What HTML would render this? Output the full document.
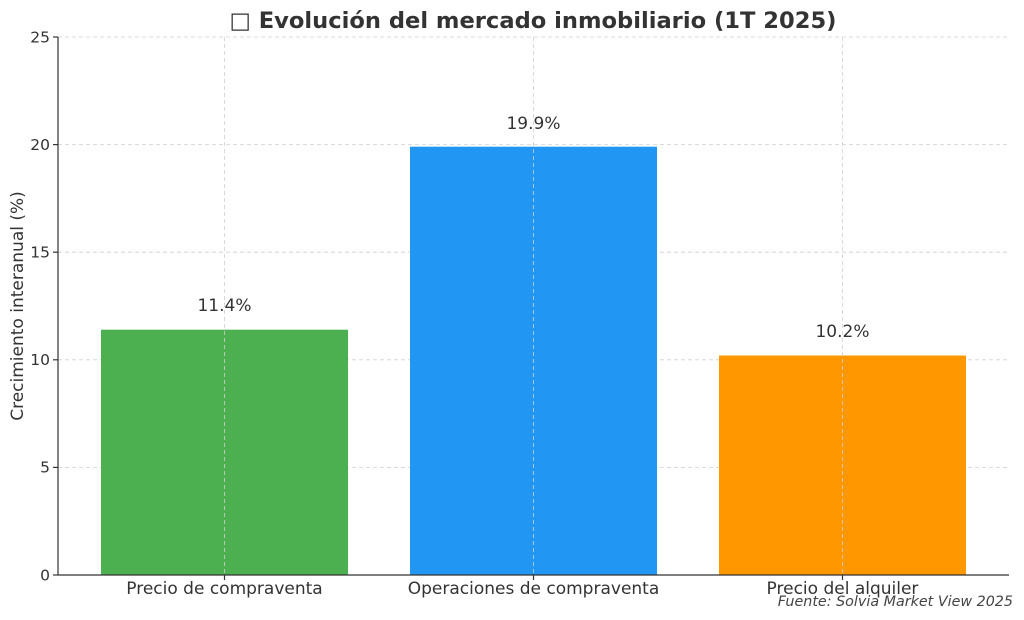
<!DOCTYPE html>
<html><head><meta charset="utf-8"><style>
body{margin:0;background:#fff;}
svg{display:block;font-family:"DejaVu Sans",sans-serif;}
</style></head><body>
<svg width="1024" height="620" viewBox="0 0 1024 620" xmlns="http://www.w3.org/2000/svg">
<rect width="1024" height="620" fill="#fff"/>
<g stroke="#d0d0d0" stroke-width="0.8" stroke-dasharray="4,3">
<line x1="58" y1="37" x2="1009" y2="37"/>
<line x1="58" y1="144.6" x2="1009" y2="144.6"/>
<line x1="58" y1="252.2" x2="1009" y2="252.2"/>
<line x1="58" y1="359.8" x2="1009" y2="359.8"/>
<line x1="58" y1="467.4" x2="1009" y2="467.4"/>
</g>
<rect x="101" y="329.7" width="247" height="245.3" fill="#4caf50"/>
<rect x="410" y="146.7" width="247" height="428.3" fill="#2196f3"/>
<rect x="719" y="355.5" width="247" height="219.5" fill="#ff9800"/>
<g stroke="#d0d0d0" stroke-width="0.8" stroke-dasharray="4,3">
<line x1="224.5" y1="37" x2="224.5" y2="575"/>
<line x1="533.5" y1="37" x2="533.5" y2="575"/>
<line x1="842.5" y1="37" x2="842.5" y2="575"/>
</g>
<g stroke="#333" stroke-width="1.2">
<line x1="58" y1="37" x2="58" y2="575"/>
<line x1="58" y1="575" x2="1009" y2="575"/>
<line x1="53" y1="37" x2="58" y2="37"/>
<line x1="53" y1="144.6" x2="58" y2="144.6"/>
<line x1="53" y1="252.2" x2="58" y2="252.2"/>
<line x1="53" y1="359.8" x2="58" y2="359.8"/>
<line x1="53" y1="467.4" x2="58" y2="467.4"/>
<line x1="53" y1="575" x2="58" y2="575"/>
<line x1="224.5" y1="575" x2="224.5" y2="580"/>
<line x1="533.5" y1="575" x2="533.5" y2="580"/>
<line x1="842.5" y1="575" x2="842.5" y2="580"/>
</g>
<g fill="#333" font-size="15.5" text-anchor="end">
<text x="50" y="42.5">25</text>
<text x="50" y="150">20</text>
<text x="50" y="257.5">15</text>
<text x="50" y="365">10</text>
<text x="50" y="472.5">5</text>
<text x="50" y="580.5">0</text>
</g>
<g fill="#333" font-size="17" text-anchor="middle">
<text x="224.5" y="594">Precio de compraventa</text>
<text x="533.5" y="594">Operaciones de compraventa</text>
<text x="842.5" y="594">Precio del alquiler</text>
<text x="224.5" y="311">11.4%</text>
<text x="533.5" y="129">19.9%</text>
<text x="842.5" y="337">10.2%</text>
</g>
<text transform="translate(23,306) rotate(-90)" fill="#333" font-size="17" text-anchor="middle">Crecimiento interanual (%)</text>
<text x="533" y="28" fill="#333" font-size="22.6" font-weight="bold" text-anchor="middle">□ Evolución del mercado inmobiliario (1T 2025)</text>
<text x="1013" y="606" fill="#444" font-size="14.3" font-style="italic" text-anchor="end">Fuente: Solvia Market View 2025</text>
</svg>
</body></html>
